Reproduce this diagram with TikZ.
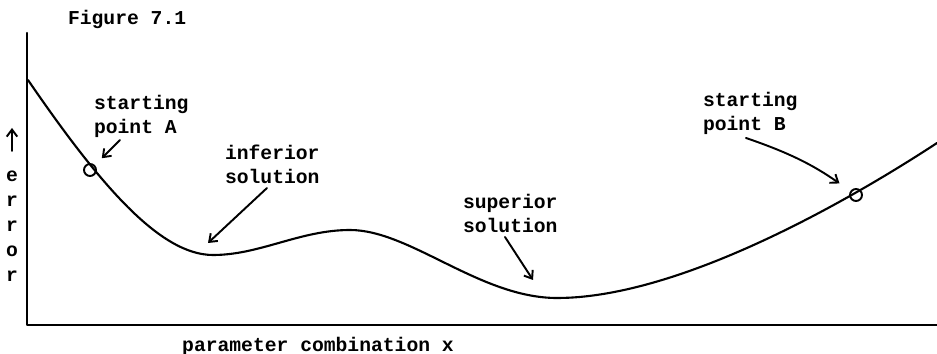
\documentclass[tikz,border=0pt]{standalone}
\usepackage{fontspec}
\setmonofont{Liberation Mono}
\usetikzlibrary{arrows.meta}
\tikzset{
  rotulo/.style={font=\ttfamily\bfseries\fontsize{11.2}{13.8}\selectfont,
    align=left, anchor=north west, inner sep=0pt},
  flecha/.style={-{Straight Barb[length=4pt,width=6pt]}, line width=1.1pt},
  marca/.style={circle, draw, line width=1.1pt, minimum size=0.24cm, inner sep=0pt},
}

\begin{document}
\begin{tikzpicture}[x=0.02cm, y=-0.02cm, line width=1.2pt, line cap=round, line join=round]
  \useasboundingbox (0,0) rectangle (937,354);
  % los ejes
  \draw (27,33) -- (27,325) -- (937,325);
  % la curva del error: bajada, minimo malo, loma, minimo bueno y subida
  \draw (28,80) .. controls (100,185) and (160,255) .. (213,255)
    .. controls (260,255) and (300,230) .. (350,230)
    .. controls (410,230) and (480,298) .. (557,298)
    .. controls (680,298) and (850,200) .. (937,143);
  % los puntos de partida
  \node[marca] (ptA) at (90,170) {};
  \node[marca] (ptB) at (856,195) {};
  % los textos
  \node[rotulo] (figura) at (67,9) {Figure 7.1};
  \node[rotulo] (inicioA) at (93,94) {starting\\point A};
  \node[rotulo] (inferior) at (224,144) {inferior\\solution};
  \node[rotulo] (superior) at (462,193) {superior\\solution};
  \node[rotulo] (inicioB) at (702,91) {starting\\point B};
  \node[rotulo, anchor=north] (ejex) at (318,336) {parameter combination x};
  \node[rotulo, anchor=north, align=center, font=\ttfamily\bfseries\fontsize{11.2}{14.2}\selectfont]
    (ejey) at (12,170) {e\\r\\r\\o\\r};
  % las flechas
  \coordinate (deA) at (120,140);
  \coordinate (deInf) at (267,188);
  \coordinate (aInf) at (208,243);
  \coordinate (deSup) at (505,237);
  \coordinate (aSup) at (533,280);
  \coordinate (deB) at (746,138);
  \coordinate (arriba) at (12,128);
  \coordinate (abajo) at (12,151);
  \draw[flecha, shorten >=5.5pt] (deA) -- (ptA);
  \draw[flecha] (deInf) -- (aInf);
  \draw[flecha] (deSup) -- (aSup);
  \draw[flecha, shorten >=7.5pt] (deB) to[bend left=8] (ptB);
  \draw[flecha] (abajo) -- (arriba);
\end{tikzpicture}
\end{document}
